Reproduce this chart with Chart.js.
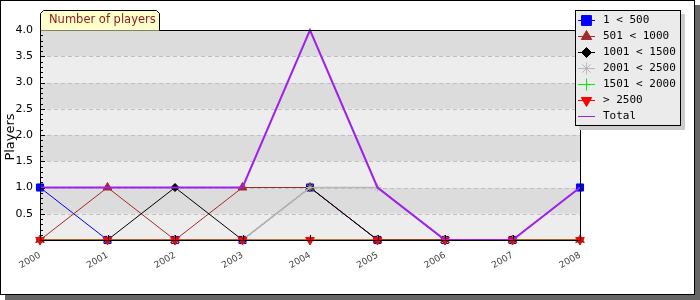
<!DOCTYPE html>
<html>
<head>
<meta charset="utf-8">
<script src="https://cdn.jsdelivr.net/npm/chart.js@4/dist/chart.umd.min.js"></script>
<style>
  html, body { margin: 0; padding: 0; background: #fff; }
  canvas { display: block; }
</style>
</head>
<body>
<canvas id="players" width="700" height="300"></canvas>
<script>
// Chart data
const years = ['2000', '2001', '2002', '2003', '2004', '2005', '2006', '2007', '2008'];
const seriesLabels = ['1 < 500', '501 < 1000', '1001 < 1500', '2001 < 2500', '1501 < 2000', '> 2500', 'Total'];
const under500 = [1, 0, 0, 0, 1, 0, 0, 0, 1];
const from501 = [0, 1, 0, 1, 1, 0, 0, 0, 0];
const from1001 = [0, 0, 1, 0, 1, 0, 0, 0, 0];
const from2001 = [0, 0, 0, 0, 1, 1, 0, 0, 0];
const from1501 = [0, 0, 0, 0, 0, 0, 0, 0, 0];
const over2500 = [0, 0, 0, 0, 0, 0, 0, 0, 0];
const total = [1, 1, 1, 1, 4, 1, 0, 0, 1];
const yTicks = [0.5, 1.0, 1.5, 2.0, 2.5, 3.0, 3.5, 4.0];

const seriesValues = [under500, from501, from1001, from2001, from1501, over2500, total];
const seriesStyles = [
    { color: '#0000ff', point: 'rect', radius: 5, rotation: 0, legendRadius: 7, width: 1 },
    { color: '#a52a2a', point: 'triangle', radius: 5, rotation: 0, legendRadius: 6, width: 1 },
    { color: '#000000', point: 'rectRot', radius: 4, rotation: 0, legendRadius: 5, width: 1 },
    { color: '#b8b8b8', point: 'star', radius: 4, rotation: 0, legendRadius: 6, width: 1.6 },
    { color: '#00ee00', point: 'cross', radius: 4, rotation: 0, legendRadius: 6, width: 1 },
    { color: '#ff0000', point: 'triangle', radius: 5, rotation: 180, legendRadius: 6, width: 1 },
    { color: '#a020f0', point: false, radius: 0, rotation: 0, legendRadius: 0, width: 2 }
];

const datasets = seriesValues.map((values, i) => {
    const st = seriesStyles[i];
    return {
        label: seriesLabels[i],
        data: values,
        borderColor: st.color,
        backgroundColor: st.color,
        borderWidth: st.width,
        pointStyle: st.point,
        pointRadius: st.radius,
        pointRotation: st.rotation,
        pointBorderWidth: 1,
        pointBorderColor: st.color,
        pointBackgroundColor: st.color,
        tension: 0,
        clip: false,
        order: 6 - i // later series on top
    };
});

// White frame with drop shadow
const framePlugin = {
    id: 'frame',
    beforeDraw(chart) {
        const ctx = chart.ctx;
        ctx.save();
        ctx.fillStyle = '#666666';
        ctx.fillRect(5, 5, 695, 295);
        ctx.fillStyle = '#ffffff';
        ctx.fillRect(0, 0, 695, 295);
        ctx.strokeStyle = '#000';
        ctx.lineWidth = 1;
        ctx.strokeRect(0.5, 0.5, 694, 294);
        ctx.restore();
    }
};

// Banded background, dashed grid, axis box and ticks
const plotPlugin = {
    id: 'plotBack',
    beforeDatasetsDraw(chart) {
        const ctx = chart.ctx;
        const area = chart.chartArea;
        const y = chart.scales.y;
        ctx.save();
        for (let k = 0; k < 8; k++) {
            const top = y.getPixelForValue((k + 1) * 0.5);
            const bottom = y.getPixelForValue(k * 0.5);
            ctx.fillStyle = k % 2 === 0 ? '#ededed' : '#dcdcdc';
            ctx.fillRect(area.left, top, area.right - area.left, bottom - top);
        }
        ctx.strokeStyle = '#c0c0c0';
        ctx.lineWidth = 1;
        ctx.setLineDash([4, 3]);
        yTicks.slice(0, -1).forEach(v => {
            const py = Math.round(y.getPixelForValue(v)) + 0.5;
            ctx.beginPath();
            ctx.moveTo(area.left, py);
            ctx.lineTo(area.right, py);
            ctx.stroke();
        });
        ctx.restore();
    },
    afterDatasetsDraw(chart) {
        const ctx = chart.ctx;
        const area = chart.chartArea;
        const x = chart.scales.x;
        const y = chart.scales.y;
        ctx.save();
        ctx.strokeStyle = '#000';
        ctx.lineWidth = 1;
        ctx.strokeRect(Math.round(area.left) + 0.5, Math.round(area.top) + 0.5,
            Math.round(area.right - area.left), Math.round(area.bottom - area.top));
        // minor ticks on y axis
        for (let i = 1; i < 40; i++) {
            const py = Math.round(y.getPixelForValue(i / 10)) + 0.5;
            const len = i % 5 === 0 ? 5 : 3;
            ctx.beginPath();
            ctx.moveTo(area.left, py);
            ctx.lineTo(area.left + len, py);
            ctx.stroke();
        }
        // ticks on x axis
        years.forEach((yr, i) => {
            const px = Math.round(x.getPixelForValue(i)) + 0.5;
            ctx.beginPath();
            ctx.moveTo(px, area.bottom - 5);
            ctx.lineTo(px, area.bottom);
            ctx.stroke();
        });
        ctx.restore();
    },
    afterDraw(chart) {
        const ctx = chart.ctx;
        ctx.save();
        // title tab
        ctx.beginPath();
        ctx.moveTo(40.5, 30.5);
        ctx.lineTo(40.5, 13.5);
        ctx.lineTo(43.5, 10.5);
        ctx.lineTo(156.5, 10.5);
        ctx.lineTo(159.5, 13.5);
        ctx.lineTo(159.5, 30.5);
        ctx.fillStyle = '#ffffcc';
        ctx.fill();
        ctx.strokeStyle = '#000';
        ctx.lineWidth = 1;
        ctx.stroke();
        ctx.fillStyle = '#8b1a1a';
        ctx.font = '11.5px "DejaVu Sans"';
        ctx.textBaseline = 'middle';
        ctx.textAlign = 'left';
        ctx.fillText('Number of players', 49, 20.5);

        // y axis title
        ctx.save();
        ctx.translate(11, 137);
        ctx.rotate(-Math.PI / 2);
        ctx.fillStyle = '#000';
        ctx.font = '13px "DejaVu Sans"';
        ctx.textAlign = 'center';
        ctx.fillText('Players', 0, 0);
        ctx.restore();

        // legend box
        ctx.fillStyle = '#cccccc';
        ctx.fillRect(579, 14, 106, 116);
        ctx.fillStyle = '#ebebeb';
        ctx.fillRect(575, 10, 106, 116);
        ctx.strokeStyle = '#000';
        ctx.strokeRect(575.5, 10.5, 105, 115);
        ctx.font = '11px "DejaVu Sans Mono"';
        ctx.textAlign = 'left';
        ctx.textBaseline = 'middle';
        chart.data.datasets.forEach((ds, i) => {
            const st = seriesStyles[i];
            const ly = 20.5 + i * 16;
            ctx.strokeStyle = ds.borderColor;
            ctx.lineWidth = 1;
            ctx.beginPath();
            ctx.moveTo(578, ly);
            ctx.lineTo(595, ly);
            ctx.stroke();
            if (st.point) {
                ctx.fillStyle = st.color;
                ctx.strokeStyle = st.color;
                Chart.helpers.drawPoint(ctx, {
                    pointStyle: st.point,
                    radius: st.legendRadius,
                    rotation: st.rotation,
                    borderWidth: 1
                }, 586.5, ly);
            }
            ctx.fillStyle = '#000';
            ctx.fillText(ds.label, 603, ly);
        });
        ctx.restore();
    }
};

new Chart(document.getElementById('players'), {
    type: 'line',
    data: { labels: years, datasets: datasets },
    options: {
        responsive: false,
        devicePixelRatio: 1,
        animation: false,
        layout: { padding: { left: 0, top: 30, right: 120, bottom: 0 } },
        plugins: {
            legend: { display: false },
            tooltip: { enabled: false },
            title: { display: false }
        },
        scales: {
            x: {
                offset: false,
                grid: { display: false, drawTicks: false },
                border: { display: false },
                ticks: {
                    autoSkip: false,
                    minRotation: 30,
                    maxRotation: 30,
                    padding: 10,
                    color: '#444',
                    font: { family: 'DejaVu Sans', size: 9 }
                },
                afterFit(scale) { scale.height = 60; }
            },
            y: {
                min: 0,
                max: 4,
                grid: { display: false, drawTicks: false },
                border: { display: false },
                afterBuildTicks(scale) {
                    scale.ticks = yTicks.map(v => ({ value: v }));
                },
                ticks: {
                    padding: 7,
                    color: '#000',
                    font: { family: 'DejaVu Sans', size: 11 },
                    callback: v => Number(v).toFixed(1)
                },
                afterFit(scale) { scale.width = 40; }
            }
        }
    },
    plugins: [framePlugin, plotPlugin]
});
</script>
</body>
</html>
